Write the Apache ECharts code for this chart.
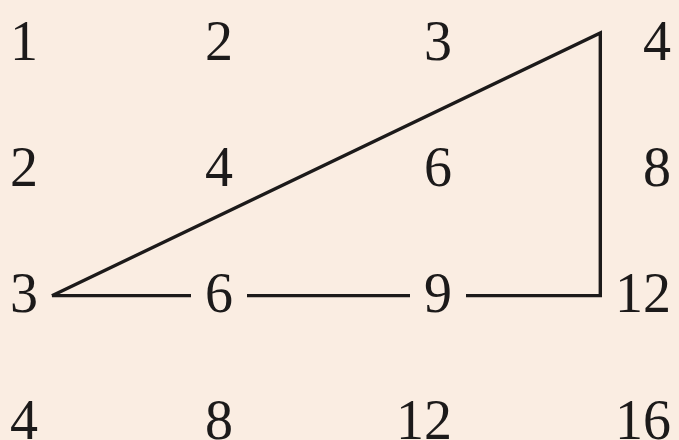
<!DOCTYPE html>
<html>
<head>
<meta charset="utf-8">
<script src="https://cdn.jsdelivr.net/npm/echarts@6/dist/echarts.min.js"></script>
<style>
  html, body { margin: 0; padding: 0; background: #faede2; }
  #main { width: 679px; height: 440px; }
</style>
</head>
<body>
<div id="main"></div>
<script>
// multiplication table: columns x rows
var columns = [1, 2, 3, 4];
var rows = [1, 2, 3, 4];
var products = [
  [1, 2, 3, 4],
  [2, 4, 6, 8],
  [3, 6, 9, 12],
  [4, 8, 12, 16]
];
// triangle drawn over the table (column, row)
var triangle = [[1.066, 3], [3.665, 0.92], [3.665, 3], [1.066, 3]];

var bg = '#faede2';
var ink = '#1c1a1a';
var colNudge = [0, -16, -8, 0]; // printed columns are not evenly spaced

var cells = [];
rows.forEach(function (r, i) {
  columns.forEach(function (c, j) {
    // numbers sitting on the base line get a gap cut around them
    var onLine = (r === 3 && (c === 2 || c === 3));
    cells.push({
      value: [c, r, products[i][j]],
      label: {
        offset: [colNudge[j] + (onLine ? 14 : 0), 2],
        padding: onLine ? [0, 14, 0, 14] : 0,
        backgroundColor: onLine ? bg : 'transparent'
      }
    });
  });
});

var chart = echarts.init(document.getElementById('main'));
chart.setOption({
  backgroundColor: bg,
  animation: false,
  grid: { left: 38, right: 8, top: 43, bottom: 18 },
  xAxis: { type: 'value', min: 1, max: 4, show: false },
  yAxis: { type: 'value', min: 1, max: 4, inverse: true, show: false },
  series: [
    {
      type: 'line',
      data: triangle,
      clip: false,
      symbol: 'none',
      z: 1,
      lineStyle: { color: ink, width: 3.4, join: 'miter' }
    },
    {
      type: 'scatter',
      data: cells,
      symbolSize: 0,
      z: 5,
      itemStyle: { opacity: 1 },
      label: {
        show: true,
        position: 'left',
        distance: 0,
        opacity: 1,
        formatter: function (p) { return p.value[2]; },
        fontFamily: '"Liberation Serif", serif',
        fontSize: 56,
        color: ink
      }
    }
  ]
});
</script>
</body>
</html>
